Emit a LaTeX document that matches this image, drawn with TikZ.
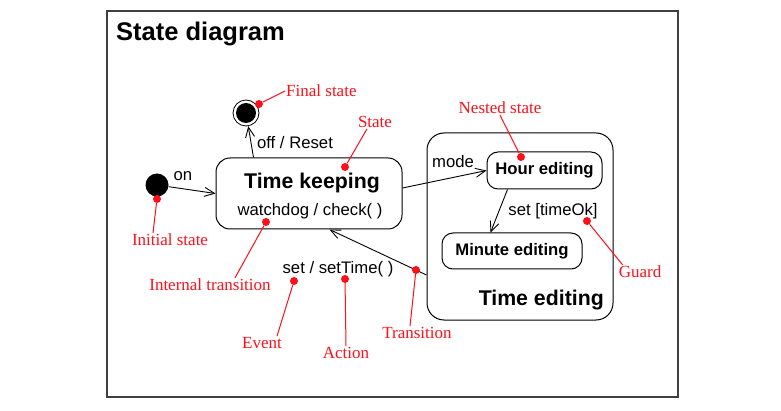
\documentclass[tikz,border=0pt]{standalone}
\usepackage{fontspec}
\setmainfont{Liberation Serif}
\setsansfont{Liberation Sans}
\usetikzlibrary{arrows.meta}

\begin{document}
\begin{tikzpicture}[x=1pt, y=-1pt,
    every node/.style={inner sep=1pt},
    state/.style={draw, rounded corners=14pt, line width=1pt},
    txt/.style={font=\sffamily\fontsize{16.7}{19}\selectfont},
    statename/.style={font=\sffamily\bfseries\fontsize{16.7}{19}\selectfont},
    note/.style={text=notered, font=\fontsize{17}{19}\selectfont},
    dot/.style={circle, fill=notered, minimum size=8pt, inner sep=0pt},
    pointer/.style={draw=notered, line width=1pt},
    arr/.style={draw, line width=0.9pt, -{Straight Barb[length=10pt, width=9pt]}}]
                \definecolor{notered}{RGB}{255,15,25}
                \useasboundingbox (0,0) rectangle (781,411);
                \draw[black!75, line width=1.5pt] (107,11) rectangle (678,397);
                \node[anchor=west, font=\sffamily\bfseries\fontsize{25.5}{30}\selectfont] (title) at (115,34) {State diagram};

                \node[circle, fill, minimum size=23pt, inner sep=0pt] (init) at (157,185) {};
                \node[circle, draw, line width=0.8pt, minimum size=26pt, inner sep=0pt] (final) at (246,113) {};
                \node[circle, fill, minimum size=20pt, inner sep=0pt] (finalin) at (246,113) {};

                \node[state, minimum width=186pt, minimum height=71pt] (tk) at (309,193.5) {};
                \node[font=\sffamily\bfseries\fontsize{21.3}{25}\selectfont] (tkname) at (312,183) {Time keeping};
                \node[txt] (tkint) at (310,211) {watchdog / check( )};

                \node[state, rounded corners=17pt, minimum width=186pt, minimum height=187pt] (te) at (520,226.5) {};
                \node[anchor=east, font=\sffamily\bfseries\fontsize{21.3}{25}\selectfont] (tename) at (605,300) {Time editing};
                \node[state, rounded corners=11pt, minimum width=115pt, minimum height=37pt, statename] (hour) at (544.5,170.5) {Hour editing};
                \node[state, rounded corners=11pt, minimum width=140pt, minimum height=36pt, statename] (minute) at (512,251) {Minute editing};

                \draw[arr] (init) -- (tk.west);
                \draw[arr] ([xshift=38pt]tk.north west) -- (final);
                \draw[arr] ([yshift=5.5pt]tk.east) -- (hour.west);
                \draw[arr] ([xshift=21pt]hour.south west) -- ([xshift=49pt]minute.north west);
                \draw[arr] ([yshift=-48.5pt]te.west) -- ([xshift=114pt]tk.south west);

                \node[txt] (on) at (183,176) {on};
                \node[txt] (off) at (295,143) {off / Reset};
                \node[txt] (mode) at (453,162) {mode};
                \node[txt] (timeok) at (553,211) {set [timeOk]};
                \node[txt] (settime) at (338,269) {set / setTime( )};

                % red notes
                \node[note, anchor=west] (lfinal) at (285,91) {Final state};
                \node[note] (lstate) at (375,122) {State};
                \node[note] (lnested) at (500,108) {Nested state};
                \node[note] (lguard) at (640,272) {Guard};
                \node[note] (linit) at (170,240) {Initial state};
                \node[note] (lint) at (210,285) {Internal transition};
                \node[note] (levent) at (262,343) {Event};
                \node[note] (laction) at (346,353) {Action};
                \node[note] (ltrans) at (417,333) {Transition};

                \node[dot] (dfinal) at (259,104) {};
                \node[dot] (dstate) at (345,167) {};
                \node[dot] (dnested) at (521,157) {};
                \node[dot] (dguard) at (587,221) {};
                \node[dot] (dinit) at (157,199) {};
                \node[dot] (dint) at (266,222) {};
                \node[dot] (devent) at (294,281) {};
                \node[dot] (daction) at (345,279) {};
                \node[dot] (dtrans) at (416,270) {};

                \draw[pointer] (dfinal) -- (lfinal.west);
                \draw[pointer] (dstate) -- ([xshift=-8pt]lstate.south);
                \draw[pointer] (dnested) -- (lnested.south);
                \draw[pointer] (dguard) -- ([xshift=5pt]lguard.north west);
                \draw[pointer] (dinit) -- ([xshift=-17pt]linit.north);
                \draw[pointer] (dint) -- ([xshift=25pt]lint.north);
                \draw[pointer] (devent) -- ([xshift=15pt]levent.north);
                \draw[pointer] (daction) -- (laction.north);
                \draw[pointer] (dtrans) -- ([xshift=-7pt]ltrans.north);
            \end{tikzpicture}
\end{document}
